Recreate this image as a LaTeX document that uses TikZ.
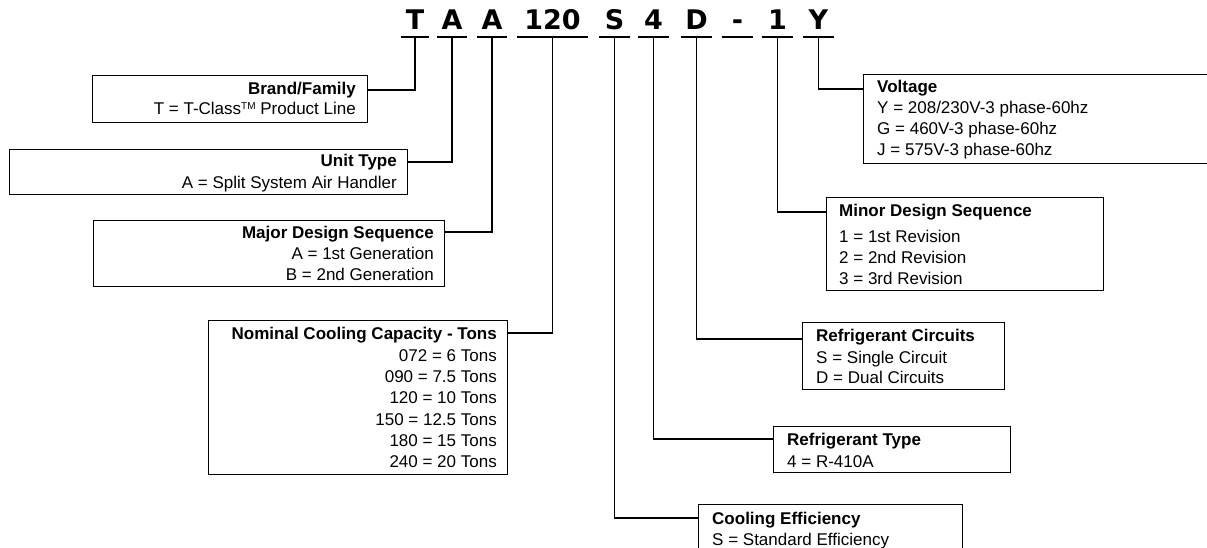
\documentclass[tikz,border=0pt]{standalone}
\usepackage{fontspec}
\setmainfont{Liberation Sans}
\newfontfamily\codefont{DejaVu Sans}
\usetikzlibrary{calc}
\newcommand{\tmark}{{\fontsize{10}{10}\selectfont\raisebox{5pt}{TM}}}
\begin{document}
\begin{tikzpicture}[x=1pt,y=-1pt,
  box/.style={draw, line width=1.3pt, inner sep=0pt, anchor=north west},
  conn/.style={line width=1.6pt},
  uline/.style={line width=1.8pt},
  txt/.style={inner sep=0pt, font=\fontsize{17}{20}\selectfont},
  ttl/.style={inner sep=0pt, font=\fontsize{17}{20}\selectfont\bfseries},
  code/.style={inner sep=0pt, anchor=base, font=\fontsize{27}{30}\selectfont\codefont\bfseries}]
\useasboundingbox (0,0) rectangle (1207,548);
\clip (0,0) rectangle (1207,548);

% code letters
\foreach \n/\x/\hw/\t in {T/415/14/T, A1/452/15/A, A2/492/15/A, N/552.5/35.5/120, S/614.5/15.5/S, F/653.5/15.5/4, D/696.5/15.5/D, H/737.5/15.5/-, O/777.5/15.5/1, Y/818.5/15.5/Y}{
  \node[code] (c\n) at (\x,30) {\t};
  \coordinate (t\n) at (\x,37);
  \draw[uline] ([xshift=-\hw pt]t\n) -- ([xshift=\hw pt]t\n);
}

% boxes
\node[box, minimum width=275pt, minimum height=47pt] (brand) at (92,75) {};
\node[box, minimum width=398pt, minimum height=45pt] (unit) at (9,149) {};
\node[box, minimum width=351pt, minimum height=66pt] (major) at (93,220) {};
\node[box, minimum width=299pt, minimum height=154pt] (nominal) at (208,320) {};
\node[box, minimum width=357pt, minimum height=89pt] (voltage) at (863,74) {};
\node[box, minimum width=277pt, minimum height=93pt] (minor) at (826,197) {};
\node[box, minimum width=202pt, minimum height=67pt] (rcirc) at (802,322) {};
\node[box, minimum width=237pt, minimum height=46pt] (rtype) at (773,426) {};
\node[box, minimum width=264pt, minimum height=56pt] (cool) at (698,504) {};

% connectors
\draw[conn] (tT) |- ($(brand.north east)+(0,15)$);
\draw[conn] (tA1) |- ($(unit.north east)+(0,13)$);
\draw[conn] (tA2) |- ($(major.north east)+(0,12)$);
\draw[conn] (tN) |- ($(nominal.north east)+(0,13)$);
\draw[conn] (tY) |- ($(voltage.north west)+(0,15)$);
\draw[conn] (tO) |- ($(minor.north west)+(0,15)$);
\draw[conn] (tD) |- ($(rcirc.north west)+(0,17)$);
\draw[conn] (tF) |- ($(rtype.north west)+(0,13)$);
\draw[conn] (tS) |- ($(cool.north west)+(0,14)$);

% left texts
\node[ttl, anchor=base east] (brand1) at (356,95) {Brand/Family};
\node[txt, anchor=base east] (brand2) at (356,115) {T = T-Class\tmark\ Product Line};
\node[ttl, anchor=base east] (unit1) at (397,167) {Unit Type};
\node[txt, anchor=base east] (unit2) at (397,189) {A = Split System Air Handler};
\node[ttl, anchor=base east] (major1) at (434,238) {Major Design Sequence};
\node[txt, anchor=base east] (major2) at (434,259) {A = 1st Generation};
\node[txt, anchor=base east] (major3) at (434,280) {B = 2nd Generation};
\node[ttl, anchor=base east] (nom1) at (497,339) {Nominal Cooling Capacity - Tons};
\node[txt, anchor=base east] (nom2) at (497,361) {072 = 6 Tons};
\node[txt, anchor=base east] (nom3) at (497,382) {090 = 7.5 Tons};
\node[txt, anchor=base east] (nom4) at (497,403) {120 = 10 Tons};
\node[txt, anchor=base east] (nom5) at (497,425) {150 = 12.5 Tons};
\node[txt, anchor=base east] (nom6) at (497,446) {180 = 15 Tons};
\node[txt, anchor=base east] (nom7) at (497,467) {240 = 20 Tons};

% right texts
\node[ttl, anchor=base west] (volt1) at (877,93) {Voltage};
\node[txt, anchor=base west] (volt2) at (877,114) {Y = 208/230V-3 phase-60hz};
\node[txt, anchor=base west] (volt3) at (877,135) {G = 460V-3 phase-60hz};
\node[txt, anchor=base west] (volt4) at (877,156) {J = 575V-3 phase-60hz};
\node[ttl, anchor=base west] (minor1) at (839,216) {Minor Design Sequence};
\node[txt, anchor=base west] (minor2) at (839,243) {1 = 1st Revision};
\node[txt, anchor=base west] (minor3) at (839,263) {2 = 2nd Revision};
\node[txt, anchor=base west] (minor4) at (839,284) {3 = 3rd Revision};
\node[ttl, anchor=base west] (rc1) at (816,341) {Refrigerant Circuits};
\node[txt, anchor=base west] (rc2) at (816,363) {S = Single Circuit};
\node[txt, anchor=base west] (rc3) at (816,383) {D = Dual Circuits};
\node[ttl, anchor=base west] (rt1) at (787,445) {Refrigerant Type};
\node[txt, anchor=base west] (rt2) at (787,467) {4 = R-410A};
\node[ttl, anchor=base west] (ce1) at (712,524) {Cooling Efficiency};
\node[txt, anchor=base west] (ce2) at (712,545) {S = Standard Efficiency};
\end{tikzpicture}
\end{document}
